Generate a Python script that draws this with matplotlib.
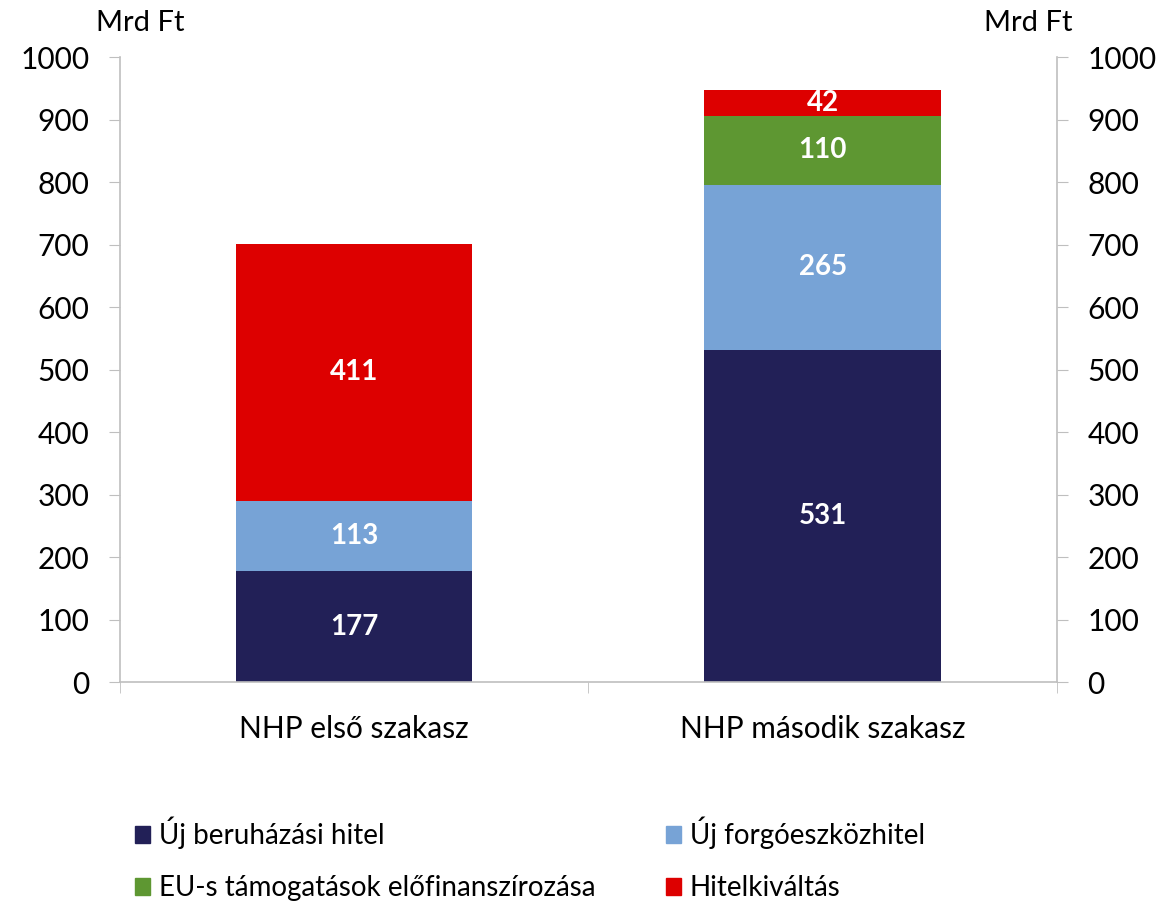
import numpy as np
import matplotlib.pyplot as plt
from matplotlib.patches import Patch

plt.rcParams['font.family'] = ['Lato', 'DejaVu Sans']

categories = ['NHP első szakasz', 'NHP második szakasz']
series_names = ['Új beruházási hitel', 'Új forgóeszközhitel',
                'EU-s támogatások előfinanszírozása', 'Hitelkiváltás']
beruhazasi = [177, 531]
forgoeszkoz = [113, 265]
eu_elofin = [0, 110]
hitelkivaltas = [411, 42]
colors = ['#222057', '#77A3D6', '#5E9732', '#DD0000']
yticks = list(range(0, 1001, 100))

fig = plt.figure(figsize=(11.6, 9.02), dpi=100)
ax = fig.add_axes([0.1034, 0.2439, 0.8077, 0.6929])

x = np.arange(len(categories))
bottom = np.zeros(len(categories))
for vals, col in zip([beruhazasi, forgoeszkoz, eu_elofin, hitelkivaltas], colors):
    vals = np.array(vals, dtype=float)
    ax.bar(x, vals, width=0.505, bottom=bottom, color=col, zorder=2)
    for xi, b, v in zip(x, bottom, vals):
        if v > 0:
            ax.text(xi, b + v / 2, '%d' % v, ha='center', va='center',
                    color='white', fontsize=20, fontweight='bold', zorder=3)
    bottom += vals

ax.set_xlim(-0.5, 1.5)
ax.set_ylim(0, 1000)
ax.set_yticks(yticks)
ax.set_xticks(x)
ax.set_xticklabels(categories, fontsize=21.5)
ax.set_xticks([-0.5, 0.5, 1.5], minor=True)
ax.tick_params(axis='x', which='major', length=0, pad=24)
ax.tick_params(axis='x', which='minor', length=8, color='#BFBFBF', direction='out')
ax.tick_params(axis='y', left=True, right=True, labelleft=True, labelright=True,
               length=8, color='#BFBFBF', labelsize=21.5, pad=14)
for s in ['left', 'right', 'bottom']:
    ax.spines[s].set_color('#BFBFBF')
    ax.spines[s].set_linewidth(1.2)
ax.spines['top'].set_visible(False)

fig.text(0.121, 0.975, 'Mrd Ft', fontsize=21, ha='center', va='center')
fig.text(0.886, 0.975, 'Mrd Ft', fontsize=21, ha='center', va='center')

order = [0, 2, 1, 3]
handles = [Patch(color=colors[i]) for i in order]
labels = [series_names[i] for i in order]
fig.legend(handles, labels, ncol=2, loc='lower left', bbox_to_anchor=(0.095, -0.027),
           frameon=False, fontsize=20, handlelength=0.55, handleheight=0.55,
           handletextpad=0.3, columnspacing=2.55, labelspacing=0.95)

fig.savefig('out.png')
